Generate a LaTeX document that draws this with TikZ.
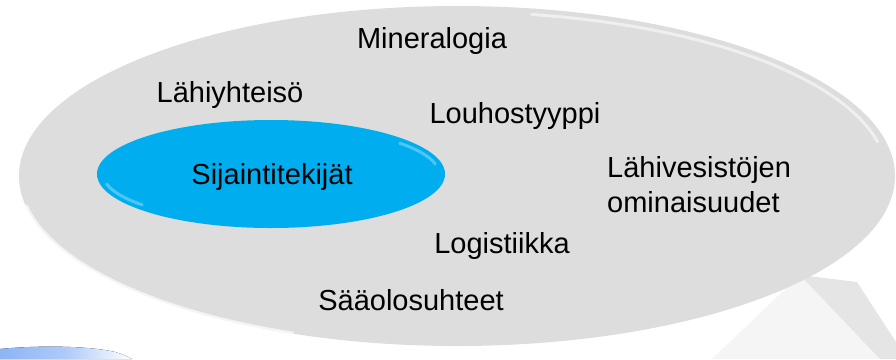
\documentclass[tikz,border=0pt]{standalone}
\usepackage{fontspec}
\setmainfont{Liberation Sans}
\usetikzlibrary{shapes.geometric}
\definecolor{bluefill}{RGB}{0,174,239}
\definecolor{greyfill}{RGB}{221,221,221}
\definecolor{paleblue}{RGB}{140,180,245}
\tikzset{
  lbl/.style={font=\fontsize{29bp}{35bp}\selectfont, text=black, inner sep=0pt},
  sheen/.style={white, opacity=0.5, line width=2pt, line cap=round},
}
\begin{document}
\begin{tikzpicture}[x=1bp,y=-1bp]
\useasboundingbox (0,0) rectangle (896,359);
% background pyramid shape bottom right
\fill[black!4] (800,275) -- (712,359) -- (880,359) -- cycle;
\fill[black!10] (800,275) -- (857,282) -- (896,342) -- (896,359) -- (880,359) -- cycle;
% light blue shape bottom left
\fill[left color=paleblue, right color=white, middle color=paleblue!70!white] (0,359) -- (0,349) .. controls (40,345) and (90,346) .. (115,352) .. controls (125,355) and (130,358) .. (132,359) -- cycle;
% big grey ellipse
\node[ellipse, fill=greyfill, minimum width=876bp, minimum height=340bp, inner sep=0pt] (big) at (457,176) {};
\draw[sheen, opacity=0.55, line width=3pt] (457,176) ++(-12:430 and 164) arc [start angle=-12, end angle=-80, x radius=430, y radius=164];
\draw[sheen, opacity=0.7, line width=2pt] (457,176) ++(170:437 and 169) arc [start angle=170, end angle=112, x radius=437, y radius=169];
% blue ellipse
\node[ellipse, fill=bluefill, minimum width=348bp, minimum height=108bp, inner sep=0pt] (blue) at (271,174) {};
\draw[sheen, opacity=0.3, line width=3pt] (271,174) ++(-12:168 and 48) arc [start angle=-12, end angle=-40, x radius=168, y radius=48];
\draw[sheen, opacity=0.3, line width=3pt] (271,174) ++(168:168 and 48) arc [start angle=168, end angle=140, x radius=168, y radius=48];
% labels
\node[lbl, anchor=base] (sij) at (272,184) {Sijaintitekijät};
\node[lbl, anchor=base] (min) at (432,48) {Mineralogia};
\node[lbl, anchor=base] (lah) at (230,102) {Lähiyhteisö};
\node[lbl, anchor=base] (lou) at (515,123) {Louhostyyppi};
\node[lbl, anchor=base west] (lv1) at (607,177) {Lähivesistöjen};
\node[lbl, anchor=base west] (lv2) at (607,212) {ominaisuudet};
\node[lbl, anchor=base] (log) at (502,253) {Logistiikka};
\node[lbl, anchor=base] (saa) at (411,310) {Sääolosuhteet};
\end{tikzpicture}
\end{document}
